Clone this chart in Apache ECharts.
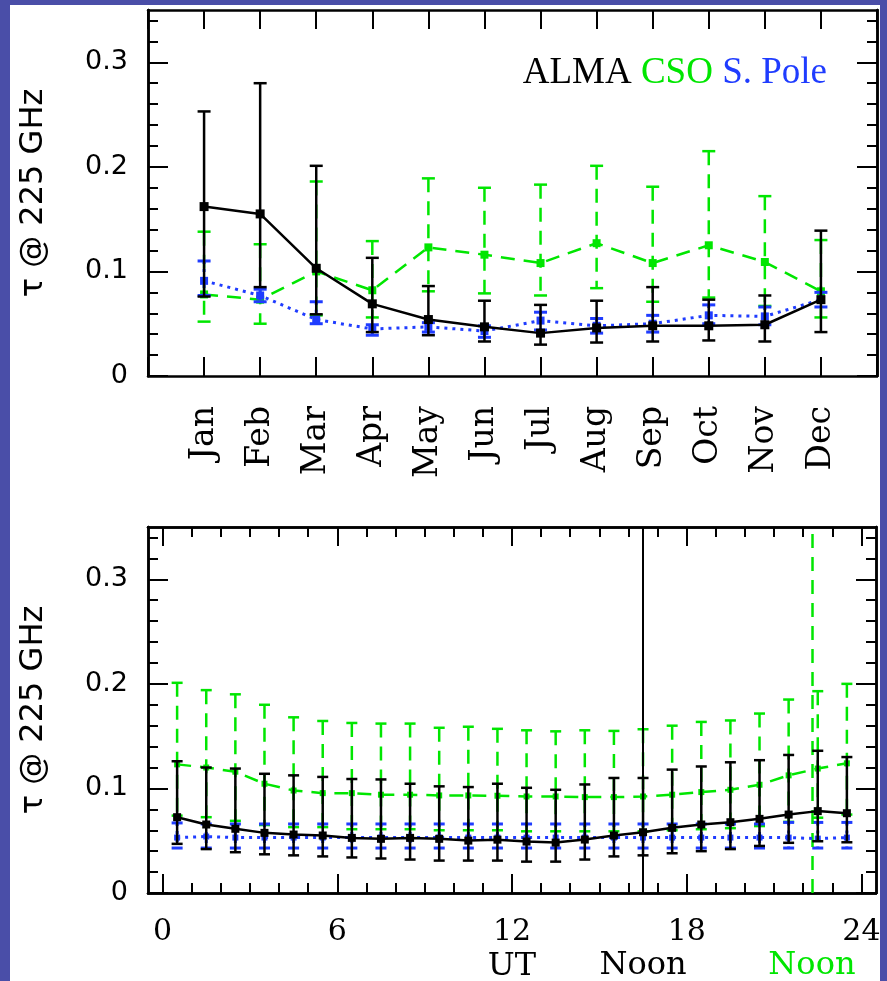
<!DOCTYPE html>
<html>
<head>
<meta charset="utf-8">
<script src="https://cdn.jsdelivr.net/npm/echarts@6/dist/echarts.min.js"></script>
<style>
  html, body { margin: 0; padding: 0; background: #4a4ea8; }
  #paper { position: absolute; left: 10px; top: 5px; width: 870px; height: 976px; background: #fff; }
  #chart { position: absolute; left: 0; top: 0; width: 887px; height: 981px; }
</style>
</head>
<body>
<div id="paper"></div>
<div id="chart"></div>
<script>
// 月份数据
var months = ['Jan', 'Feb', 'Mar', 'Apr', 'May', 'Jun', 'Jul', 'Aug', 'Sep', 'Oct', 'Nov', 'Dec'];
var monthX = [1, 2, 3, 4, 5, 6, 7, 8, 9, 10, 11, 12];

var almaMon   = [0.162, 0.155, 0.103, 0.069, 0.054, 0.047, 0.041, 0.046, 0.048, 0.048, 0.049, 0.073];
var almaMonLo = [0.076, 0.085, 0.059, 0.042, 0.039, 0.033, 0.030, 0.032, 0.033, 0.034, 0.033, 0.042];
var almaMonHi = [0.253, 0.280, 0.201, 0.113, 0.086, 0.072, 0.068, 0.072, 0.085, 0.073, 0.077, 0.139];

var csoMon    = [0.078, 0.073, 0.100, 0.082, 0.123, 0.116, 0.108, 0.127, 0.108, 0.125, 0.109, 0.081];
var csoMonLo  = [0.052, 0.050, 0.058, 0.056, 0.081, 0.079, 0.077, 0.084, 0.071, 0.075, 0.067, 0.056];
var csoMonHi  = [0.138, 0.126, 0.186, 0.129, 0.189, 0.180, 0.183, 0.201, 0.181, 0.215, 0.172, 0.130];

var poleMon   = [0.091, 0.077, 0.054, 0.045, 0.047, 0.043, 0.053, 0.048, 0.050, 0.058, 0.057, 0.073];
var poleMonLo = [0.077, 0.071, 0.050, 0.039, 0.042, 0.037, 0.044, 0.041, 0.042, 0.050, 0.049, 0.066];
var poleMonHi = [0.110, 0.083, 0.071, 0.049, 0.051, 0.048, 0.061, 0.055, 0.058, 0.068, 0.066, 0.080];

// 小时数据 (UT)
var hours = [0.5, 1.5, 2.5, 3.5, 4.5, 5.5, 6.5, 7.5, 8.5, 9.5, 10.5, 11.5,
             12.5, 13.5, 14.5, 15.5, 16.5, 17.5, 18.5, 19.5, 20.5, 21.5, 22.5, 23.5];

var almaHr   = [0.0725, 0.0655, 0.0614, 0.0575, 0.0559, 0.0550, 0.0527, 0.0518, 0.0527, 0.0518, 0.0501, 0.0510,
                0.0492, 0.0482, 0.0511, 0.0550, 0.0581, 0.0623, 0.0655, 0.0677, 0.0709, 0.0750, 0.0783, 0.0763];
var almaHrLo = [0.047, 0.042, 0.039, 0.037, 0.036, 0.035, 0.034, 0.033, 0.032, 0.031, 0.031, 0.031,
                0.030, 0.030, 0.032, 0.035, 0.036, 0.038, 0.040, 0.042, 0.045, 0.048, 0.0495, 0.0485];
var almaHrHi = [0.126, 0.120, 0.119, 0.114, 0.1125, 0.111, 0.109, 0.1086, 0.1045, 0.102, 0.1013, 0.1045,
                0.1006, 0.0987, 0.1038, 0.110, 0.110, 0.118, 0.121, 0.125, 0.127, 0.132, 0.136, 0.130];

var csoHr   = [0.123, 0.120, 0.116, 0.1045, 0.098, 0.0955, 0.0955, 0.094, 0.094, 0.0933, 0.0933, 0.093,
               0.0923, 0.0923, 0.0917, 0.0917, 0.0923, 0.094, 0.0965, 0.0987, 0.1035, 0.1125, 0.119, 0.124];
var csoHrLo = [0.074, 0.0725, 0.069, 0.065, 0.063, 0.063, 0.061, 0.061, 0.061, 0.060, 0.060, 0.060,
               0.059, 0.059, 0.059, 0.059, 0.059, 0.060, 0.061, 0.062, 0.064, 0.068, 0.072, 0.075];
var csoHrHi = [0.201, 0.194, 0.190, 0.180, 0.168, 0.1645, 0.1626, 0.162, 0.162, 0.158, 0.159, 0.157,
               0.1556, 0.1546, 0.1556, 0.155, 0.1566, 0.160, 0.1636, 0.165, 0.1716, 0.185, 0.193, 0.200];

var poleHr   = [0.053, 0.054, 0.053, 0.053, 0.053, 0.053, 0.053, 0.053, 0.053, 0.053, 0.053, 0.053,
                0.053, 0.053, 0.053, 0.053, 0.053, 0.053, 0.053, 0.053, 0.053, 0.053, 0.052, 0.053];
var poleHrLo = [0.043, 0.043, 0.043, 0.043, 0.043, 0.043, 0.043, 0.043, 0.043, 0.043, 0.043, 0.043,
                0.043, 0.043, 0.043, 0.043, 0.043, 0.043, 0.043, 0.043, 0.043, 0.043, 0.043, 0.043];
var poleHrHi = [0.067, 0.066, 0.066, 0.066, 0.066, 0.066, 0.066, 0.066, 0.066, 0.066, 0.066, 0.066,
                0.066, 0.066, 0.066, 0.066, 0.066, 0.066, 0.066, 0.066, 0.066, 0.0675, 0.0675, 0.0675];

// 刻度
var yMajor = [0, 0.1, 0.2, 0.3];
var yMinor = [0, 0.02, 0.04, 0.06, 0.08, 0.1, 0.12, 0.14, 0.16, 0.18, 0.2, 0.22, 0.24, 0.26, 0.28, 0.3, 0.32, 0.34];
var hrMajor = [0, 6, 12, 18, 24];
var hrMinor = [0, 1, 2, 3, 4, 5, 6, 7, 8, 9, 10, 11, 12, 13, 14, 15, 16, 17, 18, 19, 20, 21, 22, 23, 24];
// 当地正午 (UT)
var almaNoon = 16.5;
var csoNoon = 22.3;

var BLACK = '#000';
var GREEN = '#00e600';
var BLUE = '#1f3cff';

function pairs(x, y) {
    return x.map(function (v, i) { return [v, y[i]]; });
}
function triples(x, lo, hi) {
    return x.map(function (v, i) { return [v, lo[i], hi[i]]; });
}

// 误差棒
function errRender(capW, color, width, dash) {
    return function (params, api) {
        var x = api.value(0);
        var lo = api.coord([x, api.value(1)]);
        var hi = api.coord([x, api.value(2)]);
        var cap = { stroke: color, lineWidth: width };
        return {
            type: 'group',
            children: [
                { type: 'line', shape: { x1: hi[0], y1: hi[1], x2: lo[0], y2: lo[1] },
                  style: { stroke: color, lineWidth: width, lineDash: dash } },
                { type: 'line', shape: { x1: lo[0] - capW / 2, y1: lo[1], x2: lo[0] + capW / 2, y2: lo[1] }, style: cap },
                { type: 'line', shape: { x1: hi[0] - capW / 2, y1: hi[1], x2: hi[0] + capW / 2, y2: hi[1] }, style: cap }
            ]
        };
    };
}

function errSeries(data, g, capW, color, width, dash, z) {
    return {
        type: 'custom',
        xAxisIndex: g === 0 ? 0 : 2,
        yAxisIndex: g === 0 ? 0 : 4,
        renderItem: errRender(capW, color, width, dash),
        encode: { x: 0, y: [1, 2] },
        data: data,
        silent: true,
        z: z
    };
}

function lineSeries(data, g, color, width, dash, symSize, z) {
    return {
        type: 'line',
        xAxisIndex: g === 0 ? 0 : 2,
        yAxisIndex: g === 0 ? 0 : 4,
        data: data,
        symbol: 'rect',
        symbolSize: symSize,
        itemStyle: { color: color },
        lineStyle: { color: color, width: width, type: dash },
        z: z
    };
}

// 坐标轴
function yAx(grid, pos, ticks, len, withLabel) {
    return {
        type: 'value', gridIndex: grid, position: pos, min: 0, max: 0.35,
        splitLine: { show: false },
        axisLine: { show: true, onZero: false, lineStyle: { color: BLACK, width: 2.5 } },
        axisTick: { show: true, inside: true, length: len, customValues: ticks, lineStyle: { color: BLACK, width: 2 } },
        axisLabel: withLabel ? {
            show: true, customValues: yMajor, margin: 20,
            fontFamily: 'DejaVu Sans', fontSize: 27, color: BLACK,
            formatter: function (v) { return v === 0 ? '0' : v.toFixed(1); }
        } : { show: false },
        name: withLabel ? 'τ @ 225 GHz' : '',
        nameLocation: 'middle', nameRotate: 90, nameGap: 98,
        nameTextStyle: { fontFamily: 'DejaVu Sans', fontSize: 32, color: BLACK }
    };
}

function hrAx(pos, ticks, len, withLabel) {
    return {
        type: 'value', gridIndex: 1, position: pos, min: -0.5, max: 24.5,
        splitLine: { show: false },
        axisLine: { show: true, onZero: false, lineStyle: { color: BLACK, width: 2.5 } },
        axisTick: { show: true, inside: true, length: len, customValues: ticks, lineStyle: { color: BLACK, width: 2 } },
        axisLabel: withLabel ? {
            show: true, customValues: hrMajor, margin: 24,
            fontFamily: 'DejaVu Serif', fontSize: 30, color: BLACK
        } : { show: false },
        name: withLabel ? 'UT' : '',
        nameLocation: 'middle', nameGap: 58,
        nameTextStyle: { fontFamily: 'DejaVu Serif', fontSize: 32, color: BLACK }
    };
}

function monAx(pos, withLabel) {
    return {
        type: 'value', gridIndex: 0, position: pos, min: 0, max: 13, interval: 1,
        splitLine: { show: false },
        axisLine: { show: true, onZero: false, lineStyle: { color: BLACK, width: 2.5 } },
        axisTick: { show: true, inside: true, length: 19, lineStyle: { color: BLACK, width: 2 } },
        axisLabel: withLabel ? {
            show: true, rotate: 90, margin: 30,
            fontFamily: 'DejaVu Serif', fontSize: 33, color: BLACK,
            formatter: function (v) { return (v >= 1 && v <= 12) ? months[v - 1] : ''; }
        } : { show: false }
    };
}

var myChart = echarts.init(document.getElementById('chart'));
myChart.setOption({
    backgroundColor: 'transparent',
    animation: false,
    title: {
        text: '{a|ALMA} {g|CSO} {b|S. Pole}',
        right: 55, top: 50,
        textStyle: {
            fontFamily: 'Liberation Serif', fontSize: 37, fontWeight: 'normal', color: BLACK,
            rich: {
                a: { fontFamily: 'Liberation Serif', fontSize: 37, color: BLACK },
                g: { fontFamily: 'Liberation Serif', fontSize: 37, color: GREEN },
                b: { fontFamily: 'Liberation Serif', fontSize: 37, color: BLUE }
            }
        }
    },
    grid: [
        { left: 148, right: 10, top: 10, height: 366, outerBoundsMode: 'none' },
        { left: 148, right: 11, top: 527, height: 366, outerBoundsMode: 'none' }
    ],
    xAxis: [
        monAx('bottom', true),
        monAx('top', false),
        hrAx('bottom', hrMajor, 19, true),
        hrAx('bottom', hrMinor, 10, false),
        hrAx('top', hrMajor, 19, false),
        hrAx('top', hrMinor, 10, false)
    ],
    yAxis: [
        yAx(0, 'left', yMajor, 20, true),
        yAx(0, 'left', yMinor, 10, false),
        yAx(0, 'right', yMajor, 20, false),
        yAx(0, 'right', yMinor, 10, false),
        yAx(1, 'left', yMajor, 20, true),
        yAx(1, 'left', yMinor, 10, false),
        yAx(1, 'right', yMajor, 20, false),
        yAx(1, 'right', yMinor, 10, false)
    ],
    series: [
        // 上图: 按月
        errSeries(triples(monthX, csoMonLo, csoMonHi), 0, 13, GREEN, 2.5, [14, 9], 2),
        lineSeries(pairs(monthX, csoMon), 0, GREEN, 2.5, [14, 9], 8, 3),
        errSeries(triples(monthX, poleMonLo, poleMonHi), 0, 13, BLUE, 3, [3, 5], 4),
        lineSeries(pairs(monthX, poleMon), 0, BLUE, 3, [3, 5], 8, 5),
        errSeries(triples(monthX, almaMonLo, almaMonHi), 0, 13, BLACK, 2.5, null, 6),
        lineSeries(pairs(monthX, almaMon), 0, BLACK, 2.5, 'solid', 9, 7),
        // 下图: 按小时
        errSeries(triples(hours, csoHrLo, csoHrHi), 1, 11, GREEN, 2.5, [14, 9], 2),
        lineSeries(pairs(hours, csoHr), 1, GREEN, 2.5, [14, 9], 6, 3),
        errSeries(triples(hours, poleHrLo, poleHrHi), 1, 11, BLUE, 3, [3, 5], 4),
        lineSeries(pairs(hours, poleHr), 1, BLUE, 3, [3, 5], 6, 5),
        errSeries(triples(hours, almaHrLo, almaHrHi), 1, 11, BLACK, 2.5, null, 6),
        {
            type: 'line',
            xAxisIndex: 2,
            yAxisIndex: 4,
            data: pairs(hours, almaHr),
            symbol: 'rect',
            symbolSize: 8,
            itemStyle: { color: BLACK },
            lineStyle: { color: BLACK, width: 2.5 },
            z: 7,
            //当地正午
            markLine: {
                silent: true,
                symbol: 'none',
                animation: false,
                data: [
                    {
                        xAxis: almaNoon,
                        lineStyle: { color: BLACK, width: 2, type: 'solid' },
                        label: { show: true, position: 'start', distance: 57, formatter: 'Noon',
                                 fontFamily: 'DejaVu Serif', fontSize: 32, color: BLACK }
                    },
                    {
                        xAxis: csoNoon,
                        lineStyle: { color: GREEN, width: 2.5, type: [14, 9] },
                        label: { show: true, position: 'start', distance: 57, formatter: 'Noon',
                                 fontFamily: 'DejaVu Serif', fontSize: 32, color: GREEN }
                    }
                ]
            }
        }
    ]
});
</script>
</body>
</html>
